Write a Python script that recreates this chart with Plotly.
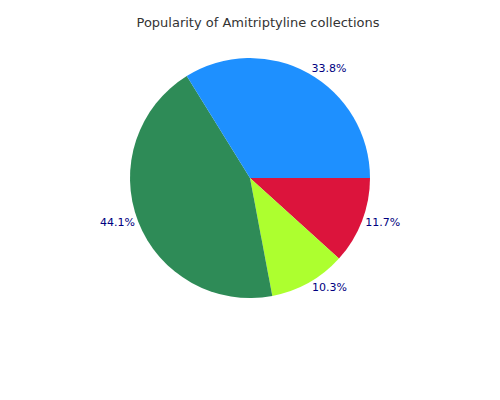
import plotly.graph_objects as go

labels = ['D', 'C', 'B', 'A']
values = [11.7, 10.3, 44.1, 33.8]
colors = ['#dc143c', '#adff2f', '#2e8b57', '#1e90ff']

fig = go.Figure(go.Pie(
    labels=labels, values=values, sort=False,
    direction='clockwise', rotation=90,
    marker=dict(colors=colors),
    textinfo='percent', texttemplate='%{percent:.1%}',
    textposition='outside',
    textfont=dict(color='#000080', size=11, family='DejaVu Sans'),
))
fig.update_layout(
    width=500, height=400,
    title=dict(text='Popularity of Amitriptyline collections', x=0.5, y=0.975,
               font=dict(size=13, color='#333333', family='DejaVu Sans')),
    showlegend=False,
    margin=dict(t=50, b=110, l=122, r=138),
    paper_bgcolor='white',
)
fig.write_html("out.html")
